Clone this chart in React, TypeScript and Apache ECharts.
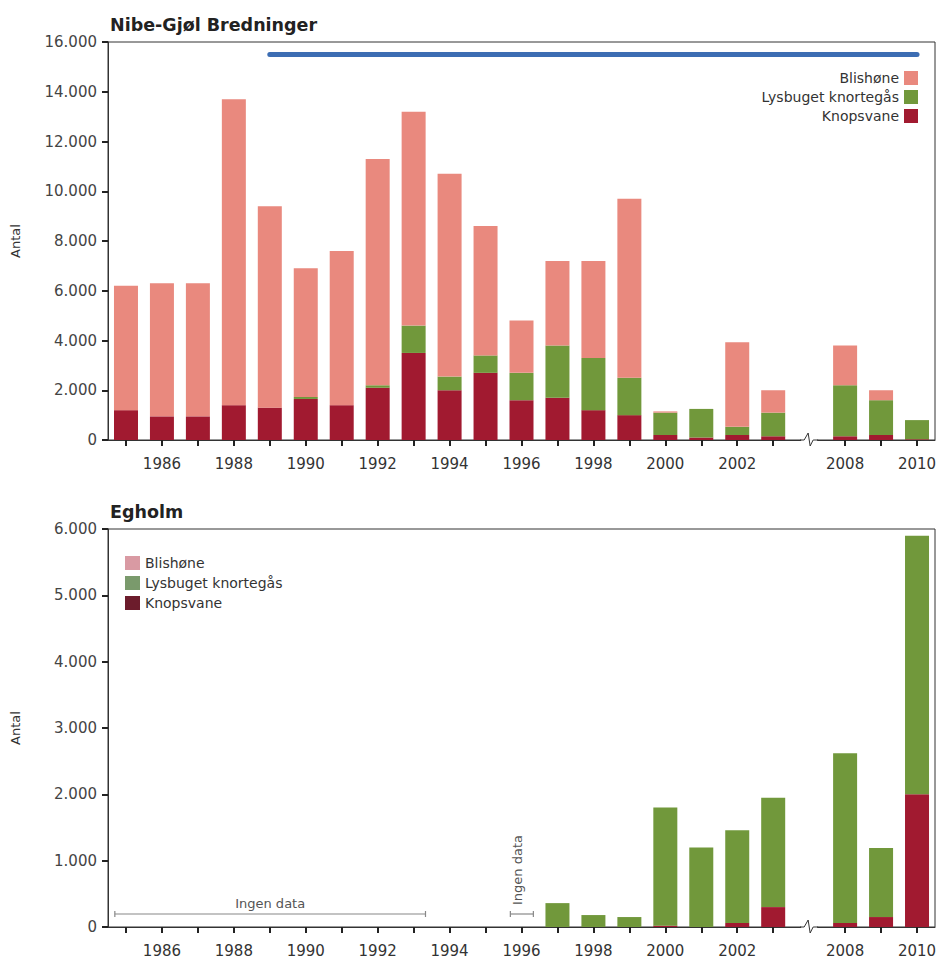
import React, { useEffect, useRef } from "react";
import * as echarts from "echarts";

const GAP = "gap";
const years = [
  "1985", "1986", "1987", "1988", "1989", "1990", "1991", "1992", "1993", "1994",
  "1995", "1996", "1997", "1998", "1999", "2000", "2001", "2002", "2003", GAP,
  "2008", "2009", "2010",
];

const seriesNames = ["Blishøne", "Lysbuget knortegås", "Knopsvane"];
const colors = { bli: "#e9897e", lys: "#71983b", knop: "#a11a30" };

// Nibe-Gjøl Bredninger
const nibeKnop = [1200, 950, 950, 1400, 1300, 1650, 1400, 2100, 3500, 2000, 2700, 1600, 1700, 1200, 1000, 200, 100, 200, 150, null, 150, 200, 30];
const nibeLys = [0, 0, 0, 0, 0, 80, 0, 100, 1100, 550, 700, 1100, 2100, 2100, 1500, 900, 1150, 330, 950, null, 2050, 1400, 770];
const nibeBli = [5000, 5350, 5350, 12300, 8100, 5170, 6200, 9100, 8600, 8150, 5200, 2100, 3400, 3900, 7200, 50, 0, 3400, 900, null, 1600, 400, 0];
const periodLine = [["1989", 15500], ["2010", 15500]];

// Egholm
const egKnop = [null, null, null, null, null, null, null, null, null, 0, 0, null, 0, 0, 0, 20, 0, 60, 300, null, 60, 150, 2000];
const egLys = [null, null, null, null, null, null, null, null, null, 0, 0, null, 360, 180, 150, 1780, 1200, 1400, 1650, null, 2560, 1040, 3900];
const egBli = [null, null, null, null, null, null, null, null, null, 0, 0, null, 0, 0, 0, 0, 0, 0, 0, null, 0, 0, 0];
const noDataRanges = [
  { from: "1985", to: "1993", label: "Ingen data", vertical: false },
  { from: "1996", to: "1996", label: "Ingen data", vertical: true },
];

const FONT = "DejaVu Sans";
const fmt = (v: number) => String(v).replace(/\B(?=(\d{3})+(?!\d))/g, ".");

function makeX(gridIndex: number) {
  return {
    type: "category",
    gridIndex,
    data: years,
    axisLine: { show: true, lineStyle: { color: "#333", width: 1 } },
    axisTick: {
      show: true,
      alignWithLabel: true,
      length: 6,
      interval: (_i: number, v: string) => v !== GAP,
      lineStyle: { color: "#222", width: 2 },
    },
    axisLabel: {
      interval: (_i: number, v: string) => v !== GAP && Number(v) % 2 === 0,
      formatter: (v: string) => (v === GAP ? "" : v),
      fontFamily: FONT,
      fontSize: 15,
      color: "#333",
      margin: 16,
    },
    splitLine: { show: false },
  };
}

function makeY(gridIndex: number, max: number, interval: number) {
  return {
    type: "value",
    gridIndex,
    min: 0,
    max,
    interval,
    name: "Antal",
    nameLocation: "middle",
    nameRotate: 90,
    nameGap: 86,
    nameTextStyle: { fontFamily: FONT, fontSize: 13, color: "#333" },
    axisLine: { show: true, lineStyle: { color: "#333", width: 1 } },
    axisTick: { show: true, length: 6, lineStyle: { color: "#222", width: 2 } },
    axisLabel: {
      formatter: (v: number) => fmt(v),
      fontFamily: FONT,
      fontSize: 15,
      color: "#444",
      margin: 11,
    },
    splitLine: { show: false },
  };
}

function breakSeries(xAxisIndex: number) {
  return {
    type: "custom",
    xAxisIndex,
    yAxisIndex: xAxisIndex,
    clip: false,
    z: 20,
    silent: true,
    data: [[GAP, 0]],
    renderItem: (_p: any, api: any) => {
      const p = api.coord([api.value(0), 0]);
      const x = p[0];
      const y = p[1];
      return {
        type: "group",
        children: [
          { type: "rect", shape: { x: x - 8, y: y - 2, width: 16, height: 4 }, style: { fill: "#fff" } },
          {
            type: "polyline",
            shape: { points: [[x - 9, y], [x - 5, y], [x - 1, y - 7], [x + 1, y + 6], [x + 4, y], [x + 9, y]] },
            style: { stroke: "#333", fill: "none", lineWidth: 1 },
          },
        ],
      };
    },
  };
}

function noDataSeries() {
  return {
    type: "custom",
    xAxisIndex: 1,
    yAxisIndex: 1,
    clip: false,
    z: 20,
    silent: true,
    encode: { x: 0, y: 1 },
    data: noDataRanges.map((r) => [years.indexOf(r.from), 0, years.indexOf(r.to)]),
    renderItem: (params: any, api: any) => {
      const r = noDataRanges[params.dataIndex];
      const a = api.coord([api.value(0), 0]);
      const b = api.coord([api.value(2), 0]);
      const band = api.size([1, 0])[0];
      const x1 = a[0] - 0.31 * band;
      const x2 = b[0] + 0.33 * band;
      const y = a[1] - 13;
      const stroke = { stroke: "#888", lineWidth: 1.2 };
      const children: any[] = [
        { type: "line", shape: { x1, y1: y, x2, y2: y }, style: stroke },
        { type: "line", shape: { x1, y1: y - 3, x2: x1, y2: y + 3 }, style: stroke },
        { type: "line", shape: { x1: x2, y1: y - 3, x2, y2: y + 3 }, style: stroke },
      ];
      if (r.vertical) {
        children.push({
          type: "text",
          x: (x1 + x2) / 2 - 4,
          y: y - 9,
          rotation: Math.PI / 2,
          style: { text: r.label, fontFamily: FONT, fontSize: 13, fill: "#555", align: "left", verticalAlign: "middle" },
        });
      } else {
        children.push({
          type: "text",
          x: (x1 + x2) / 2,
          y: y - 4,
          style: { text: r.label, fontFamily: FONT, fontSize: 13, fill: "#555", align: "center", verticalAlign: "bottom" },
        });
      }
      return { type: "group", children };
    },
  };
}

function bars(gridIndex: number, stack: string, knop: any[], lys: any[], bli: any[]) {
  const base = { type: "bar", xAxisIndex: gridIndex, yAxisIndex: gridIndex, stack, barWidth: 24 };
  return [
    { ...base, name: seriesNames[2], data: knop, itemStyle: { color: colors.knop } },
    { ...base, name: seriesNames[1], data: lys, itemStyle: { color: colors.lys } },
    { ...base, name: seriesNames[0], data: bli, itemStyle: { color: colors.bli } },
  ];
}

export default function App() {
  const ref = useRef<HTMLDivElement>(null);
  useEffect(() => {
    if (!ref.current) return;
    const chart = echarts.init(ref.current, null, { renderer: "svg" });
    const option: any = {
      animation: false,
      backgroundColor: "#fff",
      title: [
        { text: "Nibe-Gjøl Bredninger", left: 105, top: 11, textStyle: { fontFamily: FONT, fontSize: 17.5, fontWeight: "bold", color: "#222" } },
        { text: "Egholm", left: 105, top: 498, textStyle: { fontFamily: FONT, fontSize: 17.5, fontWeight: "bold", color: "#222" } },
      ],
      legend: [
        {
          data: seriesNames,
          orient: "vertical",
          right: 17,
          top: 66,
          align: "right",
          icon: "rect",
          itemWidth: 14,
          itemHeight: 14,
          itemGap: 5,
          selectedMode: false,
          textStyle: { fontFamily: FONT, fontSize: 14, color: "#333" },
        },
        {
          data: [
            { name: seriesNames[0], itemStyle: { color: "#d99aa3" } },
            { name: seriesNames[1], itemStyle: { color: "#7a9a6c" } },
            { name: seriesNames[2], itemStyle: { color: "#6c1c2c" } },
          ],
          orient: "vertical",
          left: 120,
          top: 551,
          align: "left",
          icon: "rect",
          itemWidth: 15,
          itemHeight: 14,
          itemGap: 6,
          selectedMode: false,
          textStyle: { fontFamily: FONT, fontSize: 14, color: "#333" },
        },
      ],
      grid: [
        { left: 108, top: 42, width: 827, height: 398, show: true, borderColor: "#333", borderWidth: 1, backgroundColor: "transparent" },
        { left: 108, top: 529, width: 827, height: 398, show: true, borderColor: "#333", borderWidth: 1, backgroundColor: "transparent" },
      ],
      xAxis: [makeX(0), makeX(1)],
      yAxis: [makeY(0, 16000, 2000), makeY(1, 6000, 1000)],
      series: [
        ...bars(0, "nibe", nibeKnop, nibeLys, nibeBli),
        ...bars(1, "egholm", egKnop, egLys, egBli),
        {
          type: "line",
          name: "periode",
          xAxisIndex: 0,
          yAxisIndex: 0,
          data: periodLine,
          symbol: "none",
          silent: true,
          z: 5,
          lineStyle: { color: "#3c6db3", width: 5, cap: "round" },
        },
        breakSeries(0),
        breakSeries(1),
        noDataSeries(),
      ],
    };
    chart.setOption(option);
    return () => chart.dispose();
  }, []);
  return <div ref={ref} style={{ position: "fixed", left: 0, top: 0, width: 940, height: 959 }} />;
}
